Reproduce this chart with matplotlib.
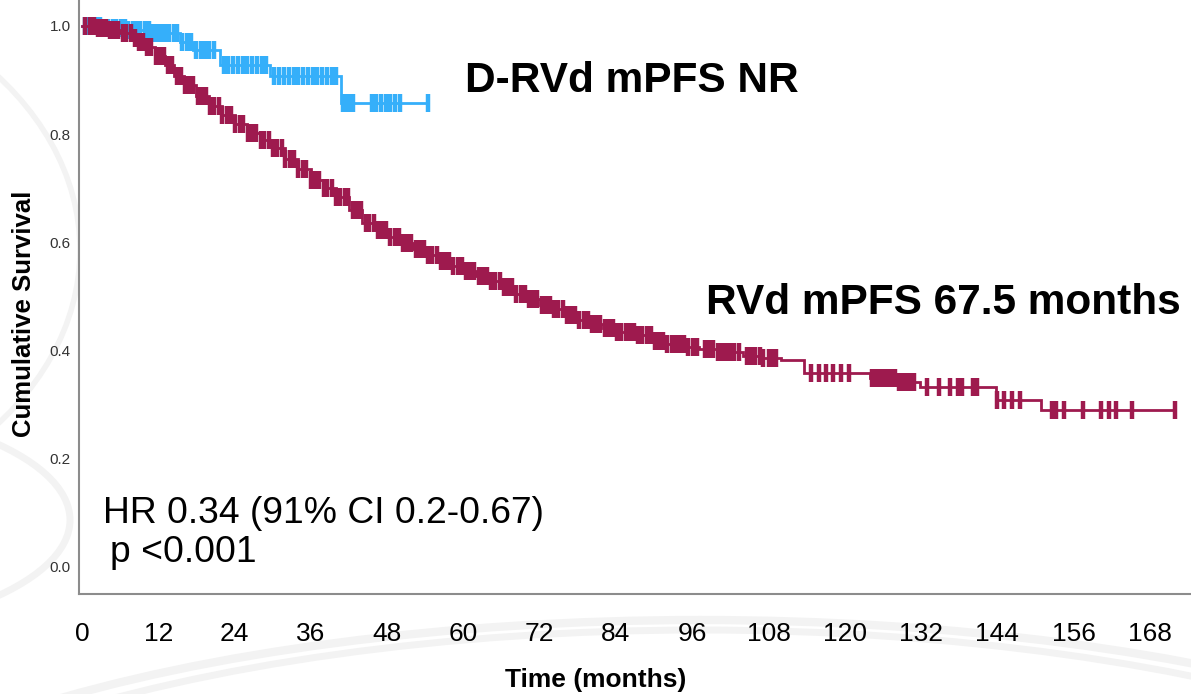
import numpy as np
import matplotlib
matplotlib.use("Agg")
import matplotlib.pyplot as plt
from matplotlib.patches import Ellipse

plt.rcParams['font.family'] = ['Liberation Sans', 'DejaVu Sans']

# ---------------- data ----------------
x_ticks = [0, 12, 24, 36, 48, 60, 72, 84, 96, 108, 120, 132, 144, 156, 168]
y_ticks = [0.0, 0.2, 0.4, 0.6, 0.8, 1.0]

# RVd: Kaplan-Meier step knots (time in months, survival)
rvd_time = [0, 2, 4, 6, 8, 9, 10, 11.5, 13, 14.5, 16, 18, 20, 22, 24, 26, 28, 30,
            32, 34, 36, 38, 40, 42, 44, 46, 48, 50, 52, 54, 56, 58, 60, 62, 64,
            66, 68, 70, 72, 74, 76, 78, 80, 82, 84, 87, 90, 92, 95, 97, 100, 104,
            107, 110, 113.5, 124, 128, 131.8, 143.8, 150.9, 172]
rvd_surv = [1.0, 0.997, 0.993, 0.987, 0.978, 0.970, 0.961, 0.945, 0.928, 0.907,
            0.890, 0.870, 0.852, 0.835, 0.818, 0.803, 0.790, 0.775, 0.755, 0.735,
            0.716, 0.700, 0.684, 0.660, 0.636, 0.622, 0.609, 0.598, 0.588, 0.577,
            0.566, 0.556, 0.547, 0.538, 0.528, 0.517, 0.505, 0.495, 0.485, 0.476,
            0.466, 0.457, 0.449, 0.442, 0.435, 0.428, 0.418, 0.412, 0.407, 0.403,
            0.398, 0.390, 0.386, 0.382, 0.359, 0.349, 0.341, 0.333, 0.309, 0.290,
            0.290]
rvd_censor = [0.5, 1.2, 1.9, 2.5, 3.2, 3.8, 4.4, 5.1, 5.7, 6.4, 7.0, 7.7, 8.3, 9.0,
              9.6, 10.3, 10.9, 11.6, 12.2, 12.9, 13.6, 14.2, 14.9, 15.5, 16.2, 16.9,
              17.5, 18.2, 18.8, 19.5, 20.2, 20.8, 21.5, 22.1, 22.8, 23.5, 24.1, 24.8,
              25.4, 26.1, 26.8, 27.4, 28.1, 28.7, 29.4, 30.1, 30.7, 31.4, 32.0, 32.7,
              33.4, 34.0, 34.7, 35.3, 36.0, 36.7, 37.3, 38.0, 38.6, 39.3, 40.0, 40.6,
              41.3, 41.9, 42.6, 43.3, 43.9, 44.6, 45.2, 45.9, 46.6, 47.2, 47.9, 48.5,
              49.2, 49.9, 50.5, 51.2, 51.8, 52.5, 53.2, 53.8, 54.5, 55.1, 55.8, 56.5,
              57.1, 57.8, 58.4, 59.1, 59.8, 60.4, 61.1, 61.7, 62.4, 63.1, 63.7, 64.4,
              65.0, 65.7, 66.4, 67.0, 67.7, 68.3, 69.0, 69.7, 70.3, 71.0, 71.6, 72.3,
              73.0, 73.6, 74.3, 74.9, 75.6, 76.3, 76.9, 77.6, 78.2, 78.9, 79.6, 80.2,
              80.9, 81.5, 82.2, 82.9, 83.5, 84.2, 84.8, 85.5, 86.2, 86.8, 87.5, 88.1,
              88.8, 89.5, 90.1, 90.8, 91.4, 92.1, 92.8, 93.4, 94.1, 94.7, 95.4, 96.1,
              96.7, 98.0, 98.7, 99.3, 100.0, 100.7, 101.3, 102.0, 102.6, 103.3, 104.6,
              105.3, 105.9, 106.6, 107.2, 108.0, 108.6, 109.2,
              114.7, 115.9, 117.1, 118.2, 119.4, 120.6,
              124.3, 124.9, 125.5, 126.1, 126.7, 127.3, 127.9, 128.5, 129.1, 129.7,
              130.3, 130.9, 133.0, 134.8, 136.6, 137.8, 138.4, 140.2, 140.8,
              143.9, 145.1, 146.3, 147.5,
              152.6, 153.2, 154.4, 157.4, 160.3, 161.5, 162.7, 165.1, 172.0]

# D-RVd: Kaplan-Meier step knots and censoring times
drvd_time = [0, 3, 7, 11, 15.4, 17.5, 21.7, 29.6, 40.8, 54.5]
drvd_surv = [1.0, 0.996, 0.992, 0.987, 0.970, 0.955, 0.928, 0.908, 0.858, 0.858]
drvd_censor = [0.4, 1.0, 1.6, 2.2, 2.9, 3.5, 4.1, 4.8, 5.4, 6.1, 6.7, 7.3, 8.0, 8.6,
               9.2, 9.9, 10.5, 11.2, 11.8, 12.4, 13.1, 13.7, 14.4, 15.0, 15.8, 16.5,
               17.1, 18.0, 18.7, 19.4, 20.0, 20.8, 22.3, 23.0, 23.8, 24.5, 25.3, 26.0,
               26.8, 27.5, 28.3, 29.0, 30.2, 31.0, 31.8, 32.5, 33.3, 34.0, 34.8, 35.5,
               36.3, 37.0, 37.8, 38.5, 39.3, 40.0, 41.1, 41.6, 42.1, 42.7, 45.6, 46.3,
               47.0, 47.8, 48.5, 49.3, 50.0, 54.5]

# ---------------- figure ----------------
W, H = 1191, 694
fig = plt.figure(figsize=(W / 100, H / 100), dpi=100)
fig.patch.set_facecolor('white')

# faint background swooshes (slide watermark)
bg = fig.add_axes([0, 0, 1, 1], zorder=-5)
bg.set_xlim(0, W)
bg.set_ylim(H, 0)
bg.axis('off')
for (cx, cy, w, h, lw) in [(700, 920, 1900, 600, 6), (700, 950, 1900, 640, 5),
                           (-300, 250, 760, 560, 4), (-250, 520, 640, 240, 5)]:
    bg.add_patch(Ellipse((cx, cy), w, h, fill=False, ec='#f3f3f3', lw=lw))

ax = fig.add_axes([79 / W, 1 - 594 / H, 1 - 79 / W, 594 / H])
ax.set_facecolor('white')

red = '#9E1A4E'
blue = '#35AFFA'


def km_plot(times, surv, censor, color, z):
    ax.step(times, surv, where='post', color=color, lw=2.0, zorder=z,
            solid_joinstyle='miter')
    idx = np.searchsorted(times, censor, side='right') - 1
    cs = np.asarray(surv)[idx]
    ax.plot(censor, cs, ls='none', marker='|', ms=13.5, mew=3.2, color=color,
            zorder=z)


km_plot(drvd_time, drvd_surv, drvd_censor, blue, 3)
km_plot(rvd_time, rvd_surv, rvd_censor, red, 4)

ax.set_xlim(-0.47, 174.45)
ax.set_ylim(-0.05, 1.048)

for s in ['top', 'right']:
    ax.spines[s].set_visible(False)
for s in ['left', 'bottom']:
    ax.spines[s].set_color('#8c8c8c')
    ax.spines[s].set_linewidth(1.5)

ax.set_xticks(x_ticks)
ax.set_xticklabels([str(v) for v in x_ticks], fontsize=19)
ax.set_yticks(y_ticks)
ax.set_yticklabels([f'{v:.1f}' for v in y_ticks], fontsize=11, color='#333333')
ax.tick_params(axis='x', length=0, pad=20)
ax.tick_params(axis='y', length=0, pad=6)

fig.text(596 / W, 1 - 680 / H, 'Time (months)', fontsize=19, fontweight='bold',
         ha='center', va='center')
fig.text(24 / W, 1 - 314 / H, 'Cumulative Survival', fontsize=18.5,
         fontweight='bold', rotation=90, ha='center', va='center')

fig.text(465 / W, 1 - 92 / H, 'D-RVd mPFS NR', fontsize=30.5, fontweight='bold',
         ha='left', va='baseline')
fig.text(706 / W, 1 - 314 / H, 'RVd mPFS 67.5 months', fontsize=30.5,
         fontweight='bold', ha='left', va='baseline')
fig.text(103 / W, 1 - 523 / H, 'HR 0.34 (91% CI 0.2-0.67)', fontsize=26.8,
         ha='left', va='baseline')
fig.text(110 / W, 1 - 562 / H, 'p <0.001', fontsize=26.8, ha='left',
         va='baseline')

fig.savefig('out.png', dpi=100)
